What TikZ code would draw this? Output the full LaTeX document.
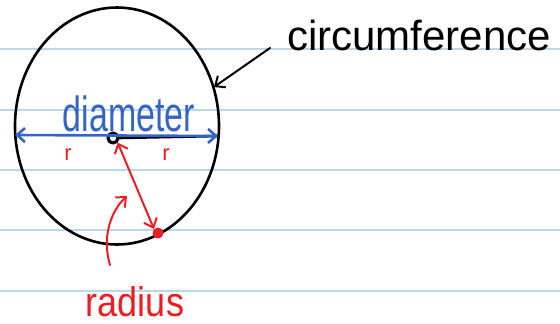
\documentclass[tikz,border=0pt]{standalone}
\usepackage{fontspec}
\setmainfont{Liberation Sans}
\usetikzlibrary{arrows.meta,shapes.geometric}
\definecolor{linie}{RGB}{186,216,232}
\definecolor{stiftblau}{RGB}{52,100,196}
\definecolor{stiftrot}{RGB}{236,30,36}
\begin{document}
\begin{tikzpicture}
    [
    x=1pt, y=-1pt, line cap=round, line join=round,
    >={Straight Barb[length=8pt,width=14pt]},
    %Voreinstellung für Pfeilspitzen
    rule/.style={linie, line width=1.2pt},
    stiftschwarz/.style={black, line width=2.6pt},
    stiftb/.style={stiftblau, line width=2.6pt},
    stiftr/.style={stiftrot, line width=2pt},
    schrift/.style={inner sep=0pt, anchor=base}
    ]
    \useasboundingbox (0,0) rectangle (560,324);
    
    %Linien im Hintergrund
    \foreach \y in {49,110,170,230,291}
    \draw[rule] (0,\y) -- (560,\y);
    
    %Kreis
    \node[ellipse, draw, stiftschwarz, minimum width=204, minimum height=237, inner sep=0pt] (kreis) at (117,126) {};
    
    %Mittelpunkt und Punkt auf dem Kreis
    \node[circle, draw, black, line width=3.2pt, minimum size=10pt, inner sep=0pt] (mitte) at (113,138) {};
    \node[circle, fill=stiftrot, minimum size=11pt, inner sep=0pt] (punkt) at (158,233) {};
    \coordinate (links) at (15,135);
    \coordinate (rechts) at (218,136);
    
    %Radius schwarz
    \draw[stiftschwarz] (mitte.east) -- (rechts);
    
    %Durchmesser
    \draw[stiftb, <->] (links) -- (rechts);
    \node[schrift, stiftblau, font=\fontsize{34}{34}\selectfont] (dtext) at (129,131) {\scalebox{1}[1.45]{diameter}};
    
    %r
    \node[schrift, stiftrot, font=\fontsize{22}{22}\selectfont] (r1) at (68,160) {r};
    \node[schrift, stiftrot, font=\fontsize{22}{22}\selectfont] (r2) at (166,160) {r};
    
    %Radius rot
    \draw[stiftr, <->] (mitte.south east) -- (punkt.north west);
    \node[schrift, stiftrot, font=\fontsize{36}{36}\selectfont] (rtext) at (135,316) {\scalebox{1}[1.15]{radius}};
    \coordinate (fuss) at (110,265);
    \coordinate (spitze) at (127,196);
    \draw[stiftr, ->] (fuss) .. controls (102,238) and (110,212) .. (spitze);
    
    %Umfang
    \node[schrift, font=\fontsize{42}{42}\selectfont] (utext) at (419,50) {circumference};
    \coordinate (ustart) at (270,48);
    \draw[stiftschwarz, line width=2pt, ->] (ustart) -- (214,87);
\end{tikzpicture}
\end{document}
